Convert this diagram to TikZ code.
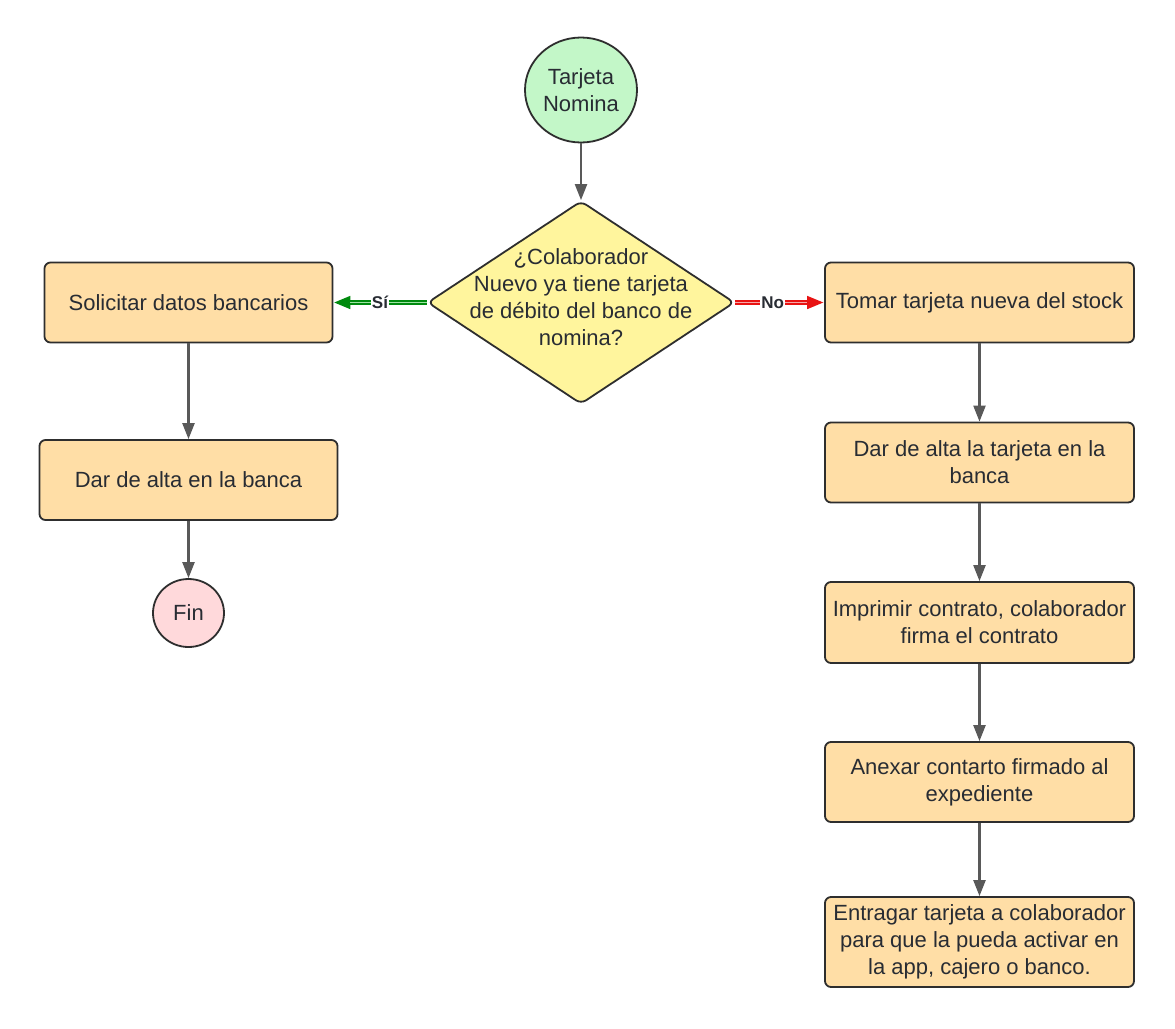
\documentclass[tikz,border=0pt]{standalone}
\usepackage{fontspec}
\setmainfont{Liberation Sans}
\usetikzlibrary{shapes.geometric,arrows.meta}
\definecolor{txt}{HTML}{282C33}
\definecolor{brd}{HTML}{2E2E2E}
\definecolor{boxfill}{HTML}{FFDEA6}
\definecolor{startfill}{HTML}{C3F7C8}
\definecolor{decfill}{HTML}{FFF59D}
\definecolor{endfill}{HTML}{FFD9DB}
\definecolor{arr}{HTML}{595959}
\definecolor{yesc}{HTML}{008A0E}
\definecolor{yesin}{HTML}{9EE3A3}
\definecolor{noc}{HTML}{E81313}
\definecolor{noin}{HTML}{F7A8A8}
\tikzset{
  every node/.style={text=txt, font=\fontsize{22}{26.8}\selectfont},
  procbox/.style={draw=brd, line width=1.8pt, fill=boxfill, rounded corners=6pt, align=center, inner sep=0pt},
  flowarrow/.style={draw=arr, line width=2.2pt, -{Triangle[length=16pt,width=12pt]}},
  yesline/.style={draw=yesc, line width=4.2pt, -{Triangle[length=17pt,width=12pt]}},
  yesinner/.style={draw=yesin, line width=1.4pt},
  noline/.style={draw=noc, line width=4.2pt, -{Triangle[length=17pt,width=12pt]}},
  noinner/.style={draw=noin, line width=1.4pt},
  edgelbl/.style={fill=white, inner sep=1pt, font=\fontsize{17}{19}\selectfont\bfseries},
}
\begin{document}
\begin{tikzpicture}[x=1pt,y=-1pt]
\useasboundingbox[fill=white] (0,0) rectangle (1175,1028);

% start
\node[ellipse, draw=brd, line width=1.8pt, fill=startfill, minimum width=112pt, minimum height=105pt, inner sep=0pt,
      label={[align=center, text=txt]center:Tarjeta\\Nomina}] (start) at (581,90) {};

% decision
\node[diamond, draw=brd, line width=1.8pt, fill=decfill, minimum width=307pt, minimum height=203pt, inner sep=0pt,
      rounded corners=6pt] (dec) at (581,302.5) {};
\node[align=center] (dectext) at (581,297) {¿Colaborador\\Nuevo ya tiene tarjeta\\de débito del banco de\\nomina?};

% left branch
\node[procbox, minimum width=288pt, minimum height=80pt] (sol) at (188.5,302.5) {Solicitar datos bancarios};
\node[procbox, minimum width=298pt, minimum height=80pt] (alta) at (188.5,480) {Dar de alta en la banca};
\node[ellipse, draw=brd, line width=1.8pt, fill=endfill, minimum width=71pt, minimum height=68pt, inner sep=0pt] (fin) at (188.5,613) {Fin};

% right branch
\node[procbox, minimum width=309pt, minimum height=80pt] (tomar) at (979.5,302.5) {Tomar tarjeta nueva del stock};
\node[procbox, minimum width=309pt, minimum height=80pt] (altat) at (979.5,462.5) {Dar de alta la tarjeta en la\\banca};
\node[procbox, minimum width=309pt, minimum height=81pt] (impr) at (979.5,622.5) {Imprimir contrato, colaborador\\firma el contrato};
\node[procbox, minimum width=309pt, minimum height=80pt] (anex) at (979.5,782) {Anexar contarto firmado al\\expediente};
\node[procbox, minimum width=309pt, minimum height=90pt] (entr) at (979.5,942) {Entragar tarjeta a colaborador\\para que la pueda activar en\\la app, cajero o banco.};

% connectors
\draw[flowarrow] (start) -- (dec);
\draw[flowarrow] (sol) -- (alta);
\draw[flowarrow] (alta) -- (fin);
\draw[flowarrow] (tomar) -- (altat);
\draw[flowarrow] (altat) -- (impr);
\draw[flowarrow] (impr) -- (anex);
\draw[flowarrow] (anex) -- (entr);

\draw[yesline] (dec.west) -- (sol.east);
\draw[yesinner, shorten >=17pt] (dec.west) -- (sol.east);
\path (dec.west) -- (sol.east) node[edgelbl, pos=0.5] (si) {Sí};

\draw[noline] (dec.east) -- (tomar.west);
\draw[noinner, shorten >=17pt] (dec.east) -- (tomar.west);
\path (dec.east) -- (tomar.west) node[edgelbl, pos=0.42] (no) {No};
\end{tikzpicture}
\end{document}
